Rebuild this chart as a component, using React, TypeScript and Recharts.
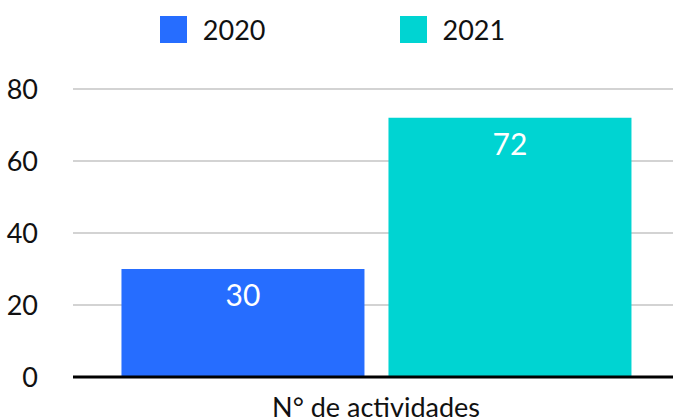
import React from "react";
import { BarChart, Bar, XAxis, YAxis, CartesianGrid, Legend, LabelList } from "recharts";

const categories = ["N° de actividades"];
const values2020 = [30];
const values2021 = [72];
const yTicks = [0, 20, 40, 60, 80];

const data = categories.map((c, i) => ({ name: c, y2020: values2020[i], y2021: values2021[i] }));

const FONT = "Lato, 'Noto Sans', sans-serif";
const C2020 = "#266DFF";
const C2021 = "#00D4D2";

const LegendContent = () => (
  <div style={{ display: "flex", justifyContent: "center", fontFamily: FONT, fontSize: 27, lineHeight: "27px", height: 27, color: "#111", paddingRight: 8 }}>
    {[
      { label: "2020", color: C2020 },
      { label: "2021", color: C2021 },
    ].map((it, i) => (
      <div key={it.label} style={{ display: "flex", alignItems: "center", marginRight: i === 0 ? 134 : 0 }}>
        <div style={{ width: 27, height: 27, background: it.color, marginRight: 16 }} />
        <span>{it.label}</span>
      </div>
    ))}
  </div>
);

export default function App() {
  return (
    <div style={{ position: "absolute", left: 0, top: 0, width: 673, height: 419, background: "#fff" }}>
      <BarChart
        width={673}
        height={419}
        data={data}
        margin={{ top: 62, right: 0, bottom: 12, left: 0 }}
        barCategoryGap="7.15%"
        barGap={24}
      >
        <CartesianGrid horizontal vertical={false} stroke="#c4c4c4" strokeWidth={1.5} />
        <Legend verticalAlign="top" align="center" content={<LegendContent />} wrapperStyle={{ top: 16, left: 0, width: 673 }} />
        <XAxis
          dataKey="name"
          padding={{ left: 6, right: 0 }}
          axisLine={{ stroke: "#000", strokeWidth: 3 }}
          tickLine={false}
          tickSize={0}
          tickMargin={21}
          tick={{ fill: "#111", fontSize: 27, fontFamily: FONT }}
        />
        <YAxis
          width={73}
          domain={[0, 80]}
          ticks={yTicks}
          axisLine={false}
          tickLine={false}
          tickSize={0}
          tickMargin={35}
          tick={{ fill: "#111", fontSize: 27, fontFamily: FONT }}
        />
        <Bar dataKey="y2020" fill={C2020} isAnimationActive={false}>
          <LabelList dataKey="y2020" position="insideTop" offset={16} fill="#fff" fontSize={30} fontFamily={FONT} />
        </Bar>
        <Bar dataKey="y2021" fill={C2021} isAnimationActive={false}>
          <LabelList dataKey="y2021" position="insideTop" offset={16} fill="#fff" fontSize={30} fontFamily={FONT} />
        </Bar>
      </BarChart>
    </div>
  );
}
